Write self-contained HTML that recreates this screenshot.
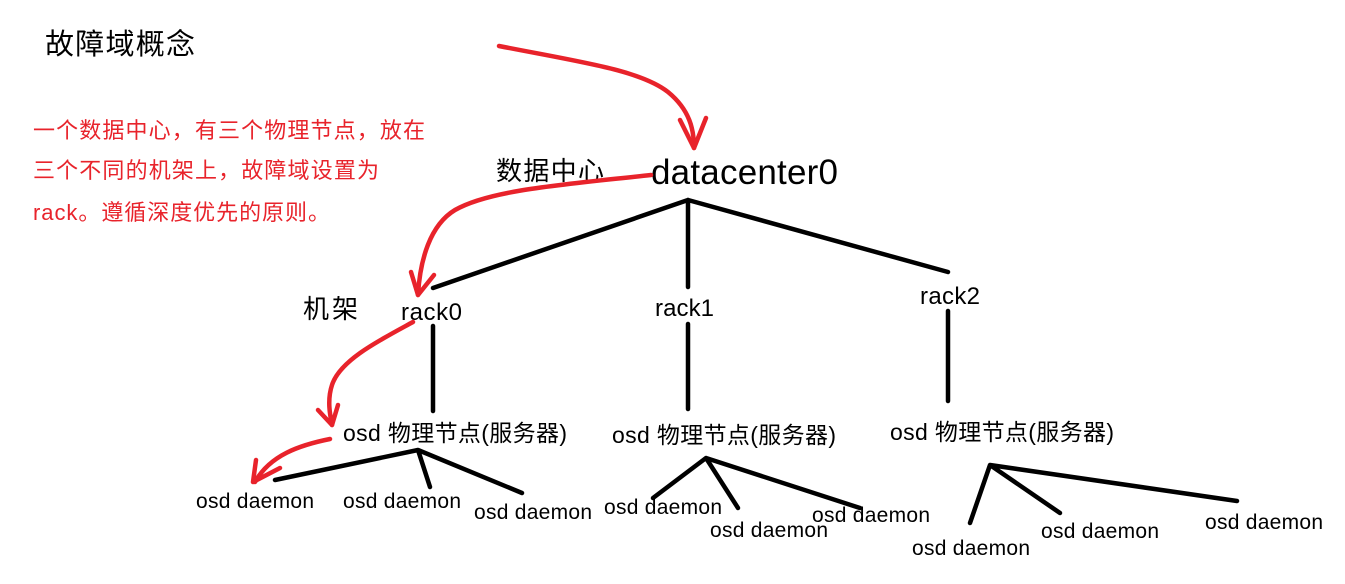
<!DOCTYPE html>
<html><head><meta charset="utf-8"><style>
html,body{margin:0;padding:0;background:#fff;width:1345px;height:584px;overflow:hidden}
svg text{font-family:"Liberation Sans","Noto Sans CJK SC",sans-serif}
</style></head><body>
<svg width="1345" height="584" viewBox="0 0 1345 584">
<text x="45" y="54" font-size="29" textLength="150" fill="#000">故障域概念</text>
<g fill="#e8232b" font-size="22">
<text x="33" y="138" textLength="392">一个数据中心，有三个物理节点，放在</text>
<text x="33" y="178" textLength="346">三个不同的机架上，故障域设置为</text>
<text x="33" y="220" textLength="297">rack。遵循深度优先的原则。</text>
</g>
<text x="496" y="180" font-size="26" textLength="108">数据中心</text>
<text x="651" y="184" font-size="35" textLength="187">datacenter0</text>
<text x="303" y="318" font-size="26" textLength="55">机架</text>
<text x="401" y="320" font-size="24" textLength="61">rack0</text>
<text x="655" y="316" font-size="24" textLength="59">rack1</text>
<text x="920" y="304" font-size="24" textLength="60">rack2</text>
<text x="343" y="441" font-size="23" textLength="224">osd 物理节点(服务器)</text>
<text x="612" y="443" font-size="23" textLength="224">osd 物理节点(服务器)</text>
<text x="890" y="440" font-size="23" textLength="224">osd 物理节点(服务器)</text>
<g font-size="21">
<text x="196" y="508" textLength="118">osd daemon</text>
<text x="343" y="508" textLength="118">osd daemon</text>
<text x="474" y="519" textLength="118">osd daemon</text>
<text x="604" y="514" textLength="118">osd daemon</text>
<text x="710" y="537" textLength="118">osd daemon</text>
<text x="812" y="522" textLength="118">osd daemon</text>
<text x="912" y="555" textLength="118">osd daemon</text>
<text x="1041" y="538" textLength="118">osd daemon</text>
<text x="1205" y="529" textLength="118">osd daemon</text>
</g>
<g stroke="#000" stroke-width="4.5" stroke-linecap="round" fill="none">
<path d="M688 200 L433 288 M688 200 L688 287 M688 200 L948 272"/>
<path d="M433 326 L433 411 M688 324 L688 409 M948 311 L948 401"/>
<path d="M418 450 L275 480 M418 450 L430 487 M418 450 L522 493"/>
<path d="M706 458 L653 498 M706 458 L738 508 M706 458 L860 508"/>
<path d="M990 465 L970 523 M990 465 L1060 513 M990 465 L1237 501"/>
</g>
<g stroke="#e8232b" stroke-width="4.5" stroke-linecap="round" stroke-linejoin="round" fill="none">
<path d="M499 46 C580 62 640 70 668 92 C690 110 694 130 694 148"/>
<path d="M680 120 L694 148 L706 118"/>
<path d="M651 175 C560 185 490 190 455 210 C430 225 420 260 418 295"/>
<path d="M411 272 L418 295 L434 275"/>
<path d="M413 322 C380 340 340 360 332 385 C327 400 330 415 332 425"/>
<path d="M318 410 L332 425 L338 405"/>
<path d="M330 439 C300 445 270 455 255 482"/>
<path d="M256 460 L253 482 L280 468"/>
</g>
</svg>
</body></html>
